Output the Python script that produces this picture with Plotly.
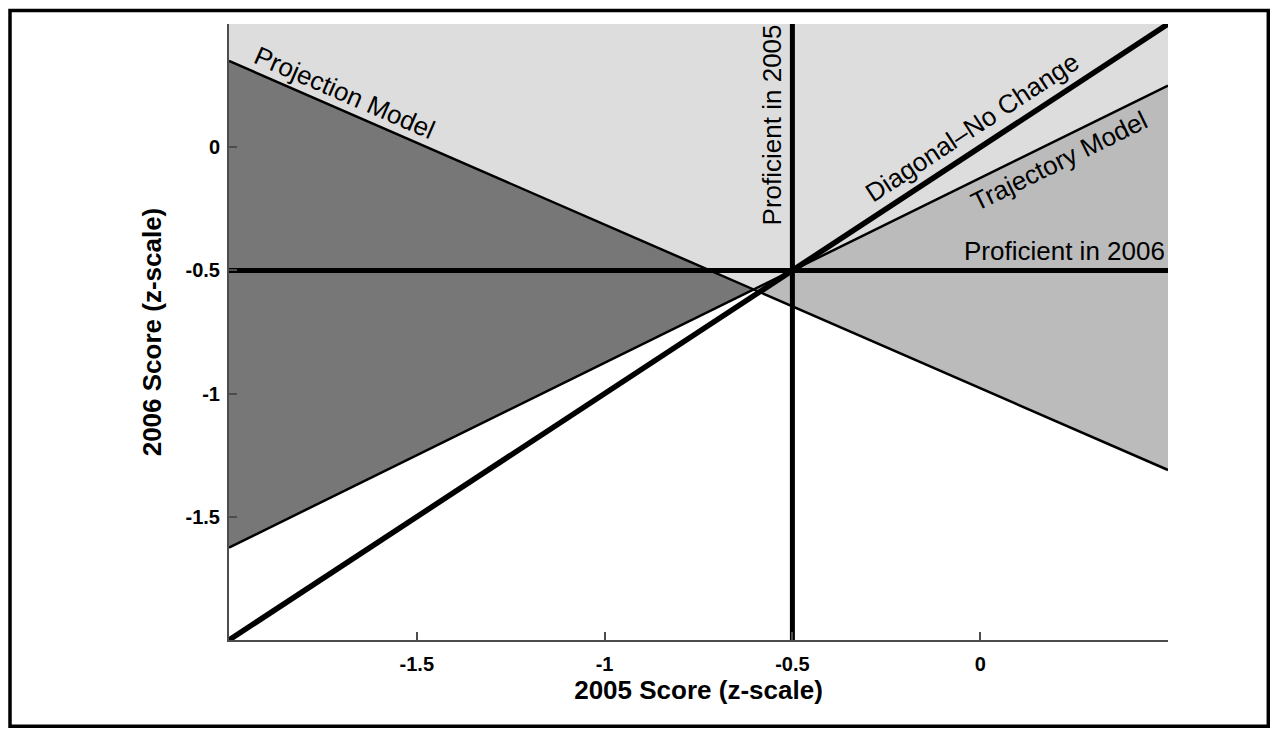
import plotly.graph_objects as go
import math

# ---- data (z-scale units) ----
x_range = [-2.0, 0.5]          # 2005 score axis extent
y_range = [-2.0, 0.5]          # 2006 score axis extent
tick_vals = [-1.5, -1.0, -0.5, 0.0]
tick_text = ["-1.5", "-1", "-0.5", "0"]
cut_2005 = -0.5                # proficiency cut in 2005
cut_2006 = -0.5                # proficiency cut in 2006
projection_y = [0.35, -1.31]   # projection model at x = -2 and x = 0.5
trajectory_y = [-1.625, 0.25]  # trajectory model at x = -2 and x = 0.5
diagonal_y = [-2.0, 0.5]       # no-change diagonal at x = -2 and x = 0.5

# ---- helpers ----
x0, x1 = x_range
py0, py1 = projection_y
ty0, ty1 = trajectory_y
ps = (py1 - py0) / (x1 - x0)
ts = (ty1 - ty0) / (x1 - x0)
xi = x0 + (ty0 - py0) / (ps - ts)
yi = py0 + ps * (xi - x0)

W, H = 1262, 720
ML, MR, MT, MB = 221, 102, 16, 88
pw, ph = W - ML - MR, H - MT - MB
kx = pw / (x1 - x0)
ky = ph / (y_range[1] - y_range[0])
def ang(slope):
    return -math.degrees(math.atan(slope * ky / kx))

FONT = "Liberation Sans, Arial, sans-serif"
fig = go.Figure()

# regions
fig.add_trace(go.Scatter(x=[x0, x1, x1, xi, x0], y=[y_range[1], y_range[1], ty1, yi, py0],
                         fill="toself", fillcolor="#dddddd", mode="none", hoverinfo="skip"))
fig.add_trace(go.Scatter(x=[x0, xi, x0], y=[py0, yi, ty0],
                         fill="toself", fillcolor="#777777", mode="none", hoverinfo="skip"))
fig.add_trace(go.Scatter(x=[xi, x1, x1], y=[yi, ty1, py1],
                         fill="toself", fillcolor="#bbbbbb", mode="none", hoverinfo="skip"))

# model lines
fig.add_trace(go.Scatter(x=[x0, x1], y=projection_y, mode="lines",
                         line=dict(color="black", width=2.5), hoverinfo="skip"))
fig.add_trace(go.Scatter(x=[x0, x1], y=trajectory_y, mode="lines",
                         line=dict(color="black", width=2.5), hoverinfo="skip"))
fig.add_trace(go.Scatter(x=[x0, x1], y=diagonal_y, mode="lines",
                         line=dict(color="black", width=5.5), hoverinfo="skip"))
fig.add_trace(go.Scatter(x=[x0, x1], y=[cut_2006, cut_2006], mode="lines",
                         line=dict(color="black", width=5), hoverinfo="skip"))
fig.add_trace(go.Scatter(x=[cut_2005, cut_2005], y=y_range, mode="lines",
                         line=dict(color="black", width=5), hoverinfo="skip"))

ann_font = dict(family=FONT, size=26, color="black")
dslope = (diagonal_y[1] - diagonal_y[0]) / (x1 - x0)
annots = [
    dict(text="Projection Model", x=-1.69, y=0.222, textangle=ang(ps)),
    dict(text="Proficient in 2005", x=-0.554, y=0.089, textangle=-90),
    dict(text="Diagonal\u2013No Change", x=-0.02, y=0.08, textangle=ang(dslope)),
    dict(text="Trajectory Model", x=0.21, y=-0.058, textangle=ang(ts)),
    dict(text="Proficient in 2006", x=0.224, y=-0.423, textangle=0),
]
for a in annots:
    fig.add_annotation(x=a["x"], y=a["y"], text=a["text"], textangle=a["textangle"],
                       showarrow=False, font=ann_font, xref="x", yref="y",
                       xanchor="center", yanchor="middle")

# outer border
fig.add_shape(type="rect", xref="paper", yref="paper",
              x0=(2 - ML) / pw, x1=(1260.3 - ML) / pw,
              y0=-(718.3 - (H - MB)) / ph, y1=1 + (MT - 2.5) / ph,
              line=dict(color="black", width=3.5))

axis_common = dict(showgrid=False, zeroline=False, showline=True, linecolor="#4d4d4d",
                   linewidth=2, ticks="inside", ticklen=8, tickwidth=1.5, tickcolor="#4d4d4d",
                   tickvals=tick_vals, ticktext=tick_text,
                   tickfont=dict(family=FONT, size=20, color="black", weight="bold"))
fig.update_xaxes(range=x_range, **axis_common, ticklabelstandoff=5,
                 title=dict(text="2005 Score (z-scale)", standoff=6,
                            font=dict(family=FONT, size=26, color="black", weight="bold")))
fig.update_yaxes(range=y_range, **axis_common, ticklabelstandoff=3,
                 title=dict(text="2006 Score (z-scale)", standoff=16,
                            font=dict(family=FONT, size=26, color="black", weight="bold")))

fig.update_layout(width=W, height=H, margin=dict(l=ML, r=MR, t=MT, b=MB, autoexpand=False),
                  plot_bgcolor="white", paper_bgcolor="white", showlegend=False)
fig.write_html("out.html")
